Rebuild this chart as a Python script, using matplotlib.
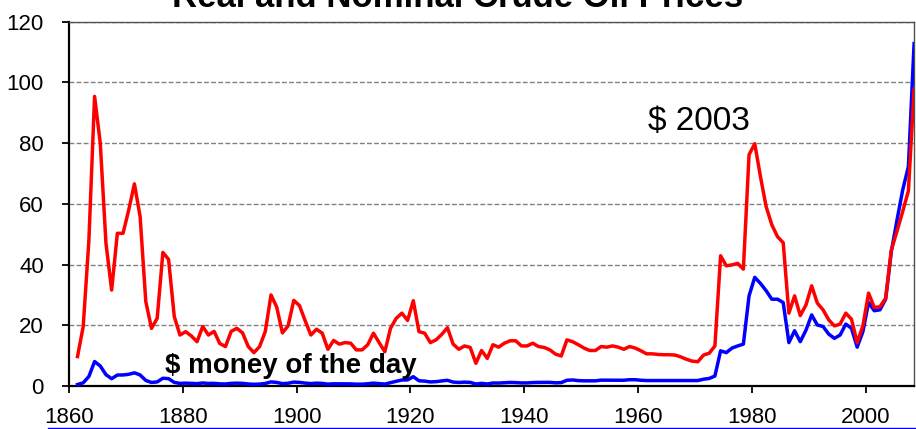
import numpy as np
import matplotlib
matplotlib.use("Agg")
import matplotlib.pyplot as plt
from matplotlib.lines import Line2D

plt.rcParams['font.family'] = ['Liberation Sans', 'DejaVu Sans']

# -------------------------------------------------------
#            CRUDE OIL PRICES 1861-2008
# -------------------------------------------------------

years = np.arange(1861, 2009)

# $ 2003 (real)
real_2003 = [
    9.7, 19.6, 48.0, 95.4, 80.0, 47.0, 31.6, 50.3, 50.3, 58.0,            # 1861-1870
    66.6, 55.8, 27.8, 19.0, 22.3, 44.0, 41.7, 22.9, 16.8, 17.9,           # 1871-1880
    16.5, 14.6, 19.6, 16.8, 18.0, 14.0, 13.0, 18.0, 19.0, 17.5,           # 1881-1890
    13.0, 11.0, 13.0, 18.0, 30.0, 26.0, 17.5, 19.8, 28.2, 26.5,           # 1891-1900
    21.5, 16.8, 18.7, 17.4, 12.1, 15.0, 13.8, 14.3, 14.1, 11.9,           # 1901-1910
    11.9, 13.6, 17.4, 14.3, 11.3, 19.0, 22.3, 24.0, 21.6, 28.1,           # 1911-1920
    17.9, 17.4, 14.3, 15.2, 17.0, 19.2, 13.8, 12.1, 13.2, 12.7,           # 1921-1930
    7.5, 11.7, 9.1, 13.6, 12.8, 14.1, 14.9, 14.9, 13.2, 13.2,             # 1931-1940
    14.1, 13.0, 12.7, 11.9, 10.5, 9.9, 15.2, 14.6, 13.6, 12.5,            # 1941-1950
    11.7, 11.7, 13.0, 12.8, 13.2, 12.8, 12.1, 13.0, 12.5, 11.6,           # 1951-1960
    10.6, 10.6, 10.4, 10.3, 10.3, 10.2, 9.6, 8.8, 8.2, 8.0,               # 1961-1970
    10.2, 10.8, 13.2, 42.9, 39.6, 39.9, 40.4, 38.5, 76.2, 79.8,           # 1971-1980
    69.0, 59.1, 53.1, 49.2, 47.2, 24.0, 29.7, 23.2, 26.7, 33.0,           # 1981-1990
    27.3, 25.1, 21.8, 19.8, 20.4, 24.0, 22.0, 14.3, 19.8, 30.6,           # 1991-2000
    25.9, 26.1, 28.9, 44.8, 51.0, 57.5, 64.3, 97.6,                       # 2001-2008
]

# $ money of the day (nominal)
nominal = [
    0.49, 1.05, 3.15, 8.06, 6.59, 3.74, 2.41, 3.62, 3.64, 3.86,           # 1861-1870
    4.34, 3.64, 1.83, 1.17, 1.35, 2.56, 2.42, 1.19, 0.86, 0.95,           # 1871-1880
    0.86, 0.78, 1.00, 0.84, 0.88, 0.71, 0.67, 0.88, 0.94, 0.87,           # 1881-1890
    0.67, 0.56, 0.64, 0.84, 1.36, 1.18, 0.79, 0.91, 1.29, 1.19,           # 1891-1900
    0.96, 0.80, 0.94, 0.86, 0.62, 0.73, 0.72, 0.72, 0.70, 0.61,           # 1901-1910
    0.61, 0.74, 0.95, 0.81, 0.64, 1.10, 1.56, 1.98, 2.01, 3.07,           # 1911-1920
    1.73, 1.61, 1.34, 1.43, 1.68, 1.88, 1.30, 1.17, 1.27, 1.19,           # 1921-1930
    0.65, 0.87, 0.67, 1.00, 0.97, 1.09, 1.18, 1.13, 1.02, 1.02,           # 1931-1940
    1.14, 1.19, 1.20, 1.21, 1.05, 1.12, 1.90, 1.99, 1.78, 1.71,           # 1941-1950
    1.71, 1.71, 1.93, 1.93, 1.93, 1.93, 1.90, 2.08, 2.08, 1.90,           # 1951-1960
    1.80, 1.80, 1.80, 1.80, 1.80, 1.80, 1.80, 1.80, 1.80, 1.80,           # 1961-1970
    2.24, 2.48, 3.29, 11.58, 11.0, 12.5, 13.2, 13.8, 29.7, 35.8,          # 1971-1980
    33.8, 31.4, 28.6, 28.6, 27.5, 14.3, 18.2, 14.6, 18.4, 23.4,           # 1981-1990
    20.1, 19.6, 17.1, 15.7, 16.8, 20.4, 19.0, 12.8, 17.9, 27.5,           # 1991-2000
    24.8, 25.1, 28.6, 44.3, 54.7, 64.6, 72.3, 112.8,                      # 2001-2008
]

x_ticks = [1860, 1880, 1900, 1920, 1940, 1960, 1980, 2000]
y_ticks = [0, 20, 40, 60, 80, 100, 120]

# prices are annual averages -> plot at mid-year
x = years + 0.5

fig = plt.figure(figsize=(9.16, 4.29), dpi=100)
ax = fig.add_axes([0.0753, 0.1002, 0.9220, 0.8492])

ax.plot(x, nominal, color='#0000ff', lw=2.5, solid_joinstyle='round', zorder=3)
ax.plot(x, real_2003, color='#ff0000', lw=2.5, solid_joinstyle='round', zorder=4)

ax.set_xlim(1860, 2008.4)
ax.set_ylim(0, 120)
ax.set_xticks(x_ticks)
ax.set_yticks(y_ticks)
ax.tick_params(axis='both', direction='out', length=5, width=1.3, labelsize=16, color='black')
ax.tick_params(axis='x', pad=10)
ax.tick_params(axis='y', pad=13)

ax.yaxis.grid(True, color='#808080', lw=1.0, linestyle=(0, (3.5, 1.6)))
ax.set_axisbelow(True)

for side in ['left', 'bottom']:
    ax.spines[side].set_linewidth(1.6)
    ax.spines[side].set_color('black')
for side in ['top', 'right']:
    ax.spines[side].set_linewidth(1.0)
    ax.spines[side].set_color('#505050')

ax.text(1961.7, 84.4, '$ 2003', fontsize=24, ha='left', va='baseline', color='black')
ax.text(1876.9, 4.4, '$ money of the day', fontsize=20, fontweight='bold', ha='left', va='baseline',
        color='black', zorder=5)

# title is clipped at the top edge in the original
fig.text(0.499, 1 - 7 / 429, 'Real and Nominal Crude Oil Prices', fontsize=25, fontweight='bold',
         ha='center', va='baseline')

# thin blue rule along the bottom edge
fig.add_artist(Line2D([48 / 916, 1.0], [1.5 / 429, 1.5 / 429], color='#0000ff', lw=1.0,
                      transform=fig.transFigure))

fig.savefig('out.png', dpi=100)
